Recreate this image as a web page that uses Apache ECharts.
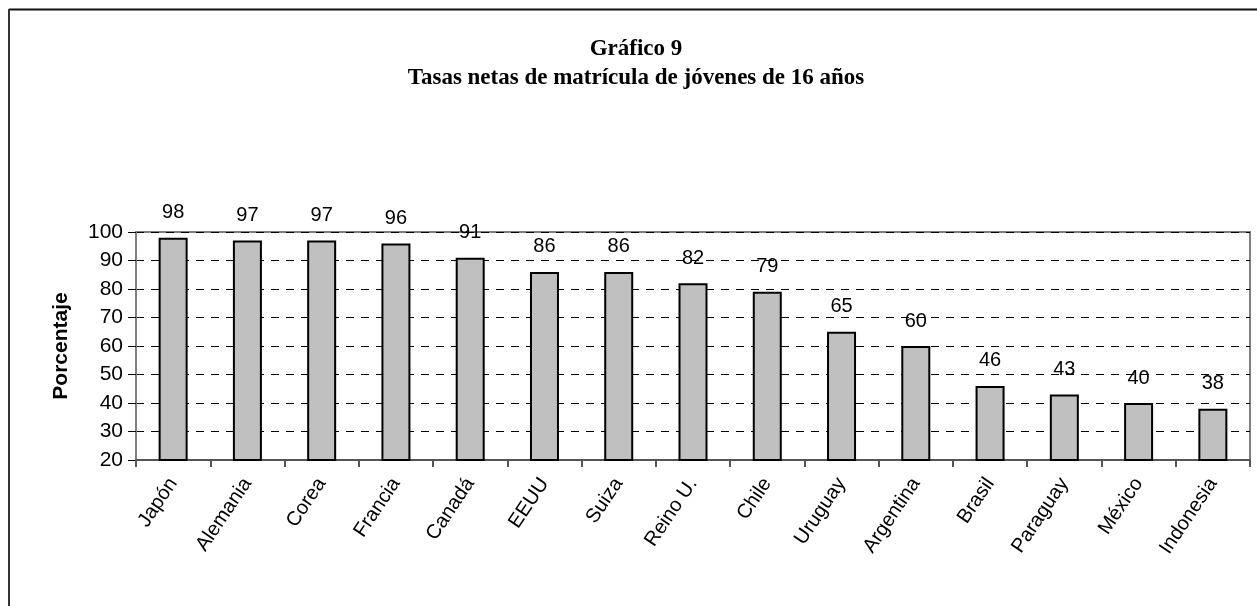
<!DOCTYPE html>
<html>
<head>
<meta charset="utf-8">
<script src="https://cdn.jsdelivr.net/npm/echarts@6/dist/echarts.min.js"></script>
<style>
  html, body { margin: 0; padding: 0; background: #fff; }
  #chart { width: 1257px; height: 606px; }
</style>
</head>
<body>
<div id="chart"></div>
<script>
const paises = ['Japón', 'Alemania', 'Corea', 'Francia', 'Canadá', 'EEUU', 'Suiza', 'Reino U.', 'Chile', 'Uruguay', 'Argentina', 'Brasil', 'Paraguay', 'México', 'Indonesia']
const tasas = [98, 97, 97, 96, 91, 86, 86, 82, 79, 65, 60, 46, 43, 40, 38]
const titulo = 'Gráfico 9'
const subtitulo = 'Tasas netas de matrícula de jóvenes de 16 años'
const ejeY = 'Porcentaje'

const chart = echarts.init(document.getElementById('chart'))

const tituloStyle = {
  fontFamily: 'Liberation Serif',
  fontWeight: 'bold',
  fontSize: 23,
  color: '#000'
}

chart.setOption({
  backgroundColor: '#fff',
  animation: false,
  title: [{
    text: titulo,
    left: 636,
    textAlign: 'center',
    top: 38,
    padding: 0,
    textStyle: tituloStyle
  }, {
    text: subtitulo,
    left: 636,
    textAlign: 'center',
    top: 67,
    padding: 0,
    textStyle: tituloStyle
  }],
  graphic: [{
    type: 'line',
    shape: { x1: 9, y1: 9.5, x2: 1257, y2: 9.5 },
    style: { stroke: '#111', lineWidth: 2 }
  }, {
    type: 'line',
    shape: { x1: 9, y1: 9, x2: 9, y2: 606 },
    style: { stroke: '#333', lineWidth: 2 }
  }],
  grid: {
    left: 136,
    right: 7,
    top: 232,
    bottom: 146,
    show: true,
    borderColor: '#808080',
    borderWidth: 2
  },
  xAxis: {
    type: 'category',
    data: paises,
    axisLine: { lineStyle: { color: '#555', width: 2 } },
    axisTick: { show: true, alignWithLabel: false, length: 7, lineStyle: { color: '#555', width: 2 } },
    axisLabel: {
      rotate: 56,
      margin: 20,
      interval: 0,
      fontFamily: 'Liberation Sans',
      fontSize: 20,
      color: '#000'
    }
  },
  yAxis: {
    type: 'value',
    min: 20,
    max: 100,
    interval: 10,
    name: ejeY,
    nameLocation: 'middle',
    nameGap: 64,
    nameTextStyle: {
      fontFamily: 'Liberation Sans',
      fontWeight: 'bold',
      fontSize: 21,
      color: '#000'
    },
    axisLine: { show: true, lineStyle: { color: '#808080', width: 2 } },
    axisTick: { show: true, length: 8, lineStyle: { color: '#000', width: 1 } },
    axisLabel: {
      margin: 13,
      fontFamily: 'Liberation Sans',
      fontSize: 21,
      color: '#000'
    },
    splitLine: {
      show: true,
      lineStyle: { color: '#000', width: 1, type: [8, 7] }
    }
  },
  series: [{
    type: 'bar',
    data: tasas,
    barWidth: 29,
    itemStyle: {
      color: '#c0c0c0',
      borderColor: '#000',
      borderWidth: 2
    },
    label: {
      show: true,
      position: 'top',
      distance: 15,
      fontFamily: 'Liberation Sans',
      fontSize: 20,
      color: '#000'
    }
  }]
})
</script>
</body>
</html>
